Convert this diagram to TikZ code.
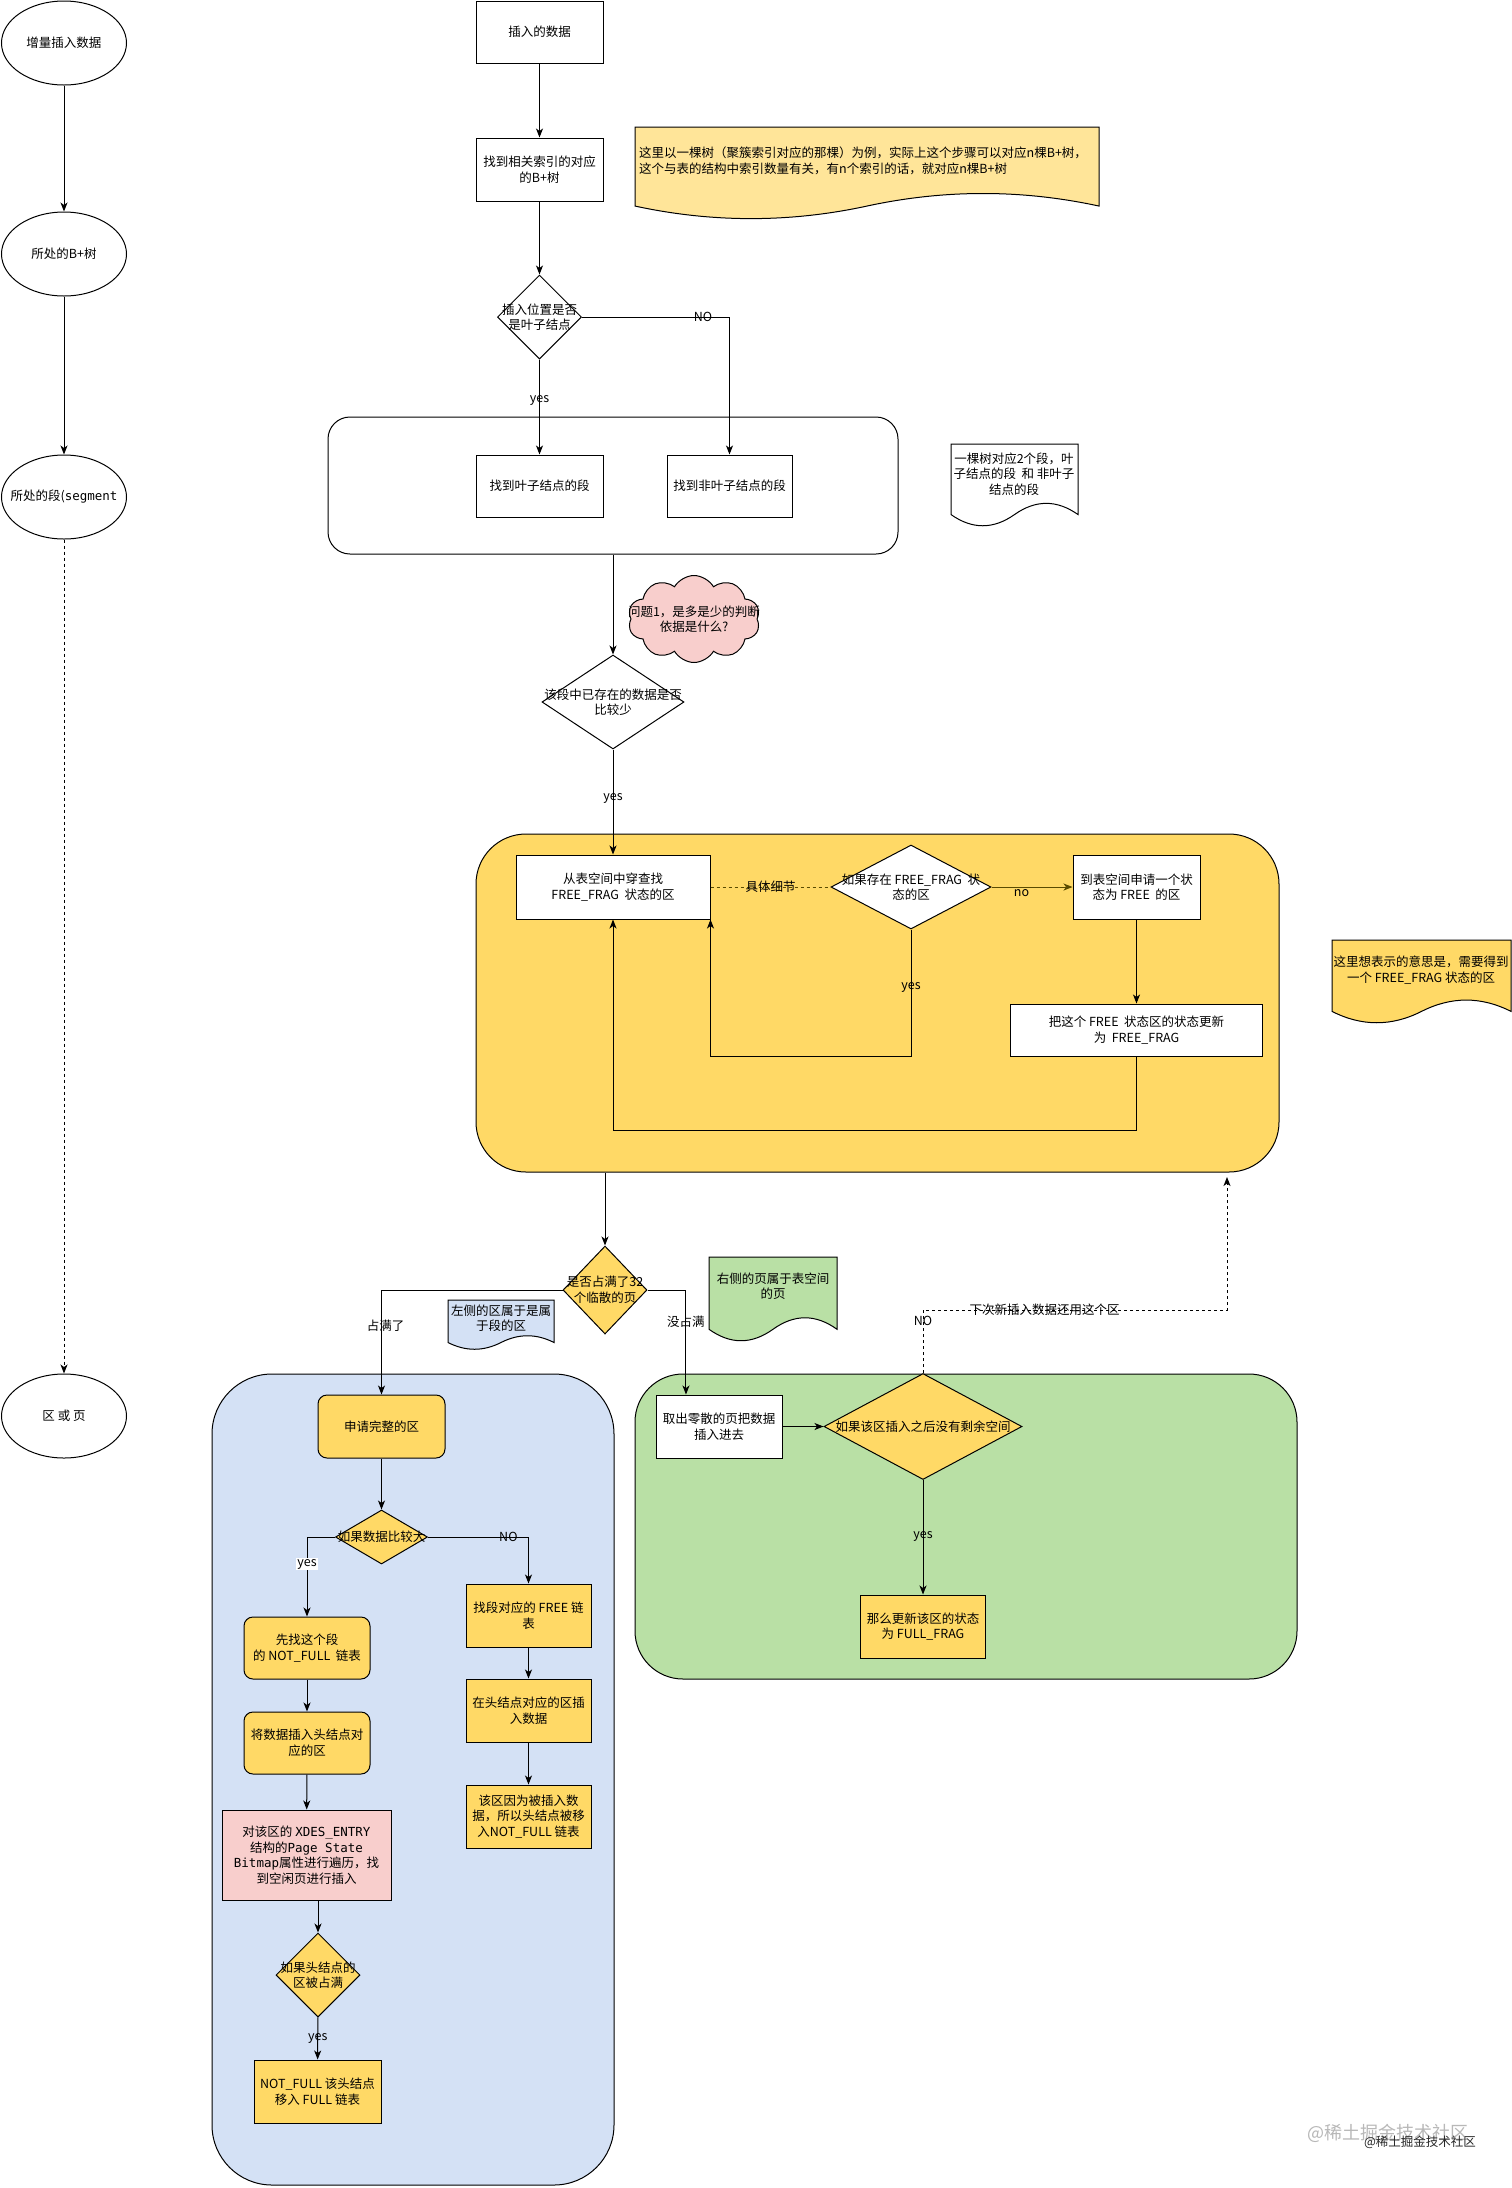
\documentclass[tikz,border=0pt]{standalone}
\usepackage{fontspec}
\setmainfont{Noto Sans CJK SC}
\setmonofont{DejaVu Sans Mono}
\usetikzlibrary{shapes.geometric,shapes.symbols,arrows.meta,calc}
\definecolor{ybox}{HTML}{FFD966}
\definecolor{ynote}{HTML}{FFE599}
\definecolor{bluebg}{HTML}{D4E1F5}
\definecolor{greenbg}{HTML}{B9E0A5}
\definecolor{pinkbg}{HTML}{F8CECC}
\definecolor{olive}{HTML}{5A4B00}
\newcommand\fsz{\fontsize{12.5pt}{15.5pt}\selectfont}
\newcommand{\docnote}[5]{%
  \pgfmathsetmacro{\dnA}{#1}%
  \pgfmathsetmacro{\dnB}{#2}%
  \pgfmathsetmacro{\dnW}{#3}%
  \pgfmathsetmacro{\dnH}{#4}%
  \pgfmathsetmacro{\dnD}{0.3*\dnH}%
  \pgfmathsetmacro{\dnS}{\dnB+\dnH-0.5*\dnD}%
  \pgfmathsetmacro{\dnU}{\dnB+\dnH-1.1*\dnD}%
  \pgfmathsetmacro{\dnL}{\dnB+\dnH+0.1*\dnD}%
  \draw[#5] (\dnA,\dnB) -- (\dnA+\dnW,\dnB) -- (\dnA+\dnW,\dnS)
    .. controls (\dnA+5*\dnW/6,\dnU) and (\dnA+2*\dnW/3,\dnU) .. (\dnA+\dnW/2,\dnS)
    .. controls (\dnA+\dnW/3,\dnL) and (\dnA+\dnW/6,\dnL) .. (\dnA,\dnS) -- cycle;}
\begin{document}
\begin{tikzpicture}[x=1pt,y=-1pt,
  base/.style={font=\fsz, align=center, inner sep=2pt},
  box/.style={base, draw, line width=1pt, fill=white, minimum width=127pt, minimum height=63pt},
  ybx/.style={box, fill=ybox},
  rybx/.style={ybx, rounded corners=9pt},
  ell/.style={base, draw, line width=1pt, ellipse, minimum width=125pt, minimum height=84pt},
  dia/.style={draw, line width=1pt, diamond, inner sep=0pt, fill=white},
  ctr/.style={draw, line width=1pt, inner sep=0pt},
  dtxt/.style={font=\fsz, align=center, inner sep=0pt},
  arr/.style={line width=1pt, -{Stealth[length=9pt,width=7pt,inset=2.5pt]}},
  dashedarr/.style={arr, dash pattern=on 3pt off 3pt},
  lbl/.style={font=\fsz, inner sep=1pt},
  note/.style={line width=1pt, draw}
]
\useasboundingbox (0,0) rectangle (1512,2188);
\fill[white] (0,0) rectangle (1512,2188);

% containers
\node[ctr, fill=white, rounded corners=22pt, minimum width=570pt, minimum height=137pt] (C1) at (613,485.5) {};
\node[ctr, fill=ybox, rounded corners=50pt, minimum width=803pt, minimum height=338pt] (YC) at (877.5,1003) {};
\node[ctr, fill=bluebg, rounded corners=60pt, minimum width=402pt, minimum height=811pt] (BC) at (413,1779.5) {};
\node[ctr, fill=greenbg, rounded corners=48pt, minimum width=662pt, minimum height=305pt] (GC) at (966,1526.5) {};

% left column
\node[ell] (E1) at (64,43) {增量插入数据};
\node[ell] (E2) at (64,254) {所处的B+树};
\node[ell, inner sep=0pt, label={[dtxt]center:{所处的段(\texttt{segment}}}] (E3) at (64,497) {};
\node[ell] (E4) at (64,1416) {区 或 页};

% notes
\docnote{635}{127}{464}{93}{note, fill=ynote}
\node[base, anchor=west, align=left] (n1t) at (637,161) {这里以一棵树（聚簇索引对应的那棵）为例，实际上这个步骤可以对应n棵B+树，\\这个与表的结构中索引数量有关，有n个索引的话，就对应n棵B+树};
\docnote{951}{444}{127}{83}{note, fill=white}
\node[base] (n2t) at (1014,474) {一棵树对应2个段，叶\\子结点的段~ 和 非叶子\\结点的段};
\docnote{1332}{940}{179}{84}{note, fill=ybox}
\node[base] (n3t) at (1421,970) {这里想表示的意思是，需要得到\\一个 FREE\_FRAG 状态的区};
\docnote{448}{1300}{106}{50}{note, fill=bluebg}
\node[base] (n4t) at (501,1318) {左侧的区属于是属\\于段的区};
\docnote{709}{1257}{128}{85}{note, fill=greenbg}
\node[base] (n5t) at (773,1286) {右侧的页属于表空间\\的页};

% main column
\node[box, minimum height=62pt] (B1) at (539.5,32) {插入的数据};
\node[box] (B2) at (539.5,169.5) {找到相关索引的对应\\的B+树};
\node[dia, minimum width=84pt, minimum height=84pt, label={[dtxt]center:{插入位置是否\\是叶子结点}}] (D1) at (539.5,317) {};
\node[box, minimum height=62pt] (B3) at (539.5,486) {找到叶子结点的段};
\node[box, minimum width=125pt, minimum height=62pt] (B4) at (729.5,486) {找到非叶子结点的段};

\node[cloud, draw, line width=1pt, fill=pinkbg, cloud puffs=10, cloud puff arc=120, aspect=1.5, minimum width=132pt, minimum height=87pt, inner sep=0pt, label={[dtxt]center:{问题1，是多是少的判断\\依据是什么?}}] (CL) at (694,619) {};
\node[dia, minimum width=142pt, minimum height=94pt, label={[dtxt]center:{该段中已存在的数据是否\\比较少}}] (D2) at (613,702) {};

\node[box, minimum width=194pt, minimum height=64pt] (B5) at (613,887) {从表空间中穿查找\\FREE\_FRAG~ 状态的区};
\node[dia, minimum width=160pt, minimum height=84pt, label={[dtxt]center:{如果存在 FREE\_FRAG~ 状\\态的区}}] (D3) at (911,887) {};
\node[box, minimum height=64pt] (B6) at (1136.5,887) {到表空间申请一个状\\态为 FREE~ 的区};
\node[box, minimum width=252pt, minimum height=52pt] (B7) at (1136.5,1030) {把这个 FREE~ 状态区的状态更新\\为~ FREE\_FRAG};

\node[dia, fill=ybox, minimum width=84pt, minimum height=88pt, label={[dtxt]center:{是否占满了32\\个临散的页}}] (D4) at (605,1290) {};

% blue part
\node[rybx] (B8) at (381.5,1426.5) {申请完整的区};
\node[dia, fill=ybox, minimum width=92pt, minimum height=54pt, label={[dtxt]center:{如果数据比较大}}] (D5) at (381.5,1537) {};
\node[rybx, minimum width=126pt, minimum height=62pt] (B10) at (307,1648) {先找这个段\\的 NOT\_FULL~ 链表};
\node[rybx, minimum width=126pt, minimum height=62pt] (B12) at (307,1743) {将数据插入头结点对\\应的区};
\node[box, fill=pinkbg, minimum width=169pt, minimum height=90pt] (B13) at (306.5,1855) {对该区的 \texttt{XDES\_ENTRY}\\结构的\texttt{Page State}\\\texttt{Bitmap}属性进行遍历，找\\到空闲页进行插入};
\node[dia, fill=ybox, minimum width=84pt, minimum height=84pt, label={[dtxt]center:{如果头结点的\\区被占满}}] (D6) at (318,1975) {};
\node[ybx] (B14) at (317.5,2091.5) {NOT\_FULL 该头结点\\移入 FULL 链表};
\node[ybx, minimum width=125pt] (B11) at (528.5,1615.5) {找段对应的 FREE 链\\表};
\node[ybx, minimum width=125pt] (B15) at (528.5,1710.5) {在头结点对应的区插\\入数据};
\node[ybx, minimum width=125pt] (B16) at (528.5,1816.5) {该区因为被插入数\\据，所以头结点被移\\入NOT\_FULL 链表};

% green part
\node[box, minimum width=126pt] (B9) at (719,1426.5) {取出零散的页把数据\\插入进去};
\node[dia, fill=ybox, minimum width=198pt, minimum height=106pt, label={[dtxt]center:{如果该区插入之后没有剩余空间}}] (D7) at (923,1426.5) {};
\node[ybx, minimum width=125pt] (B17) at (923,1626.5) {那么更新该区的状态\\为 FULL\_FRAG};

\coordinate (yct) at (1227,1177);
\coordinate (b9in) at ($(B9.north west)!0.24!(B9.north east)$);

% edges
\draw[arr] (E1) -- (E2);
\draw[arr] (E2) -- (E3);
\draw[dashedarr] (E3) -- (E4);
\draw[arr] (B1) -- (B2);
\draw[arr] (B2) -- (D1);
\draw[arr] (D1) -- node[lbl, pos=0.43] {yes} (B3);
\draw[arr] (D1.east) -| node[lbl, pos=0.41] {NO} (B4.north);
\draw[arr] (C1.south) -- (D2.north);
\draw[arr] (D2) -- node[lbl, pos=0.47] {yes} (B5);
\draw[line width=1pt, olive, dash pattern=on 3pt off 3pt] (B5.east) -- node[lbl, text=black, pos=0.5] {具体细节} (D3.west);
\draw[arr, olive] (D3.east) -- node[lbl, text=black, pos=0.37, yshift=-6pt] {no} (B6.west);
\draw[arr] (B6) -- (B7);
\draw[arr] (D3.south) |- node[lbl, pos=0.23] {yes} ($(B5.south east)+(0,137)$) -- (B5.south east);
\draw[arr] (B7.south) |- ($(B5.south)+(0,211)$) -- (B5.south);
\draw[arr] (D4.north |- YC.south) -- (D4.north);
\draw[arr] (D4.west) -| node[lbl, pos=0.67, xshift=4pt] {占满了} (B8.north);
\draw[arr] (D4.east) -| node[lbl, pos=0.65] {没占满} (b9in);
\draw[arr] (B8) -- (D5);
\draw[arr] (D5.west) -| node[lbl, pos=0.67, fill=white] {yes} (B10.north);
\draw[arr] (D5.east) -| node[lbl, pos=0.4] {NO} (B11.north);
\draw[arr] (B10) -- (B12);
\draw[arr] (B12) -- (B13);
\draw[arr] (B13.south -| D6.north) -- (D6.north);
\draw[arr] (D6) -- node[lbl, pos=0.49] {yes} (B14);
\draw[arr] (B11) -- (B15);
\draw[arr] (B15) -- (B16);
\draw[arr] (B9) -- (D7);
\draw[arr] (D7) -- node[lbl, pos=0.49] {yes} (B17);
\draw[dashedarr] (D7.north) -- node[lbl, pos=0.83] {NO} (D7.north |- 0,1310) -| node[lbl, pos=0.2] {下次新插入数据还用这个区} (yct);

% watermark
\node[font=\fontsize{18pt}{20pt}\selectfont, text=black!28, inner sep=0pt] (wm1) at (1388,2133) {@稀土掘金技术社区};
\node[font=\fontsize{12.5pt}{14pt}\selectfont, text=black!85, inner sep=0pt] (wm2) at (1420,2142) {@稀土掘金技术社区};
\end{tikzpicture}
\end{document}
